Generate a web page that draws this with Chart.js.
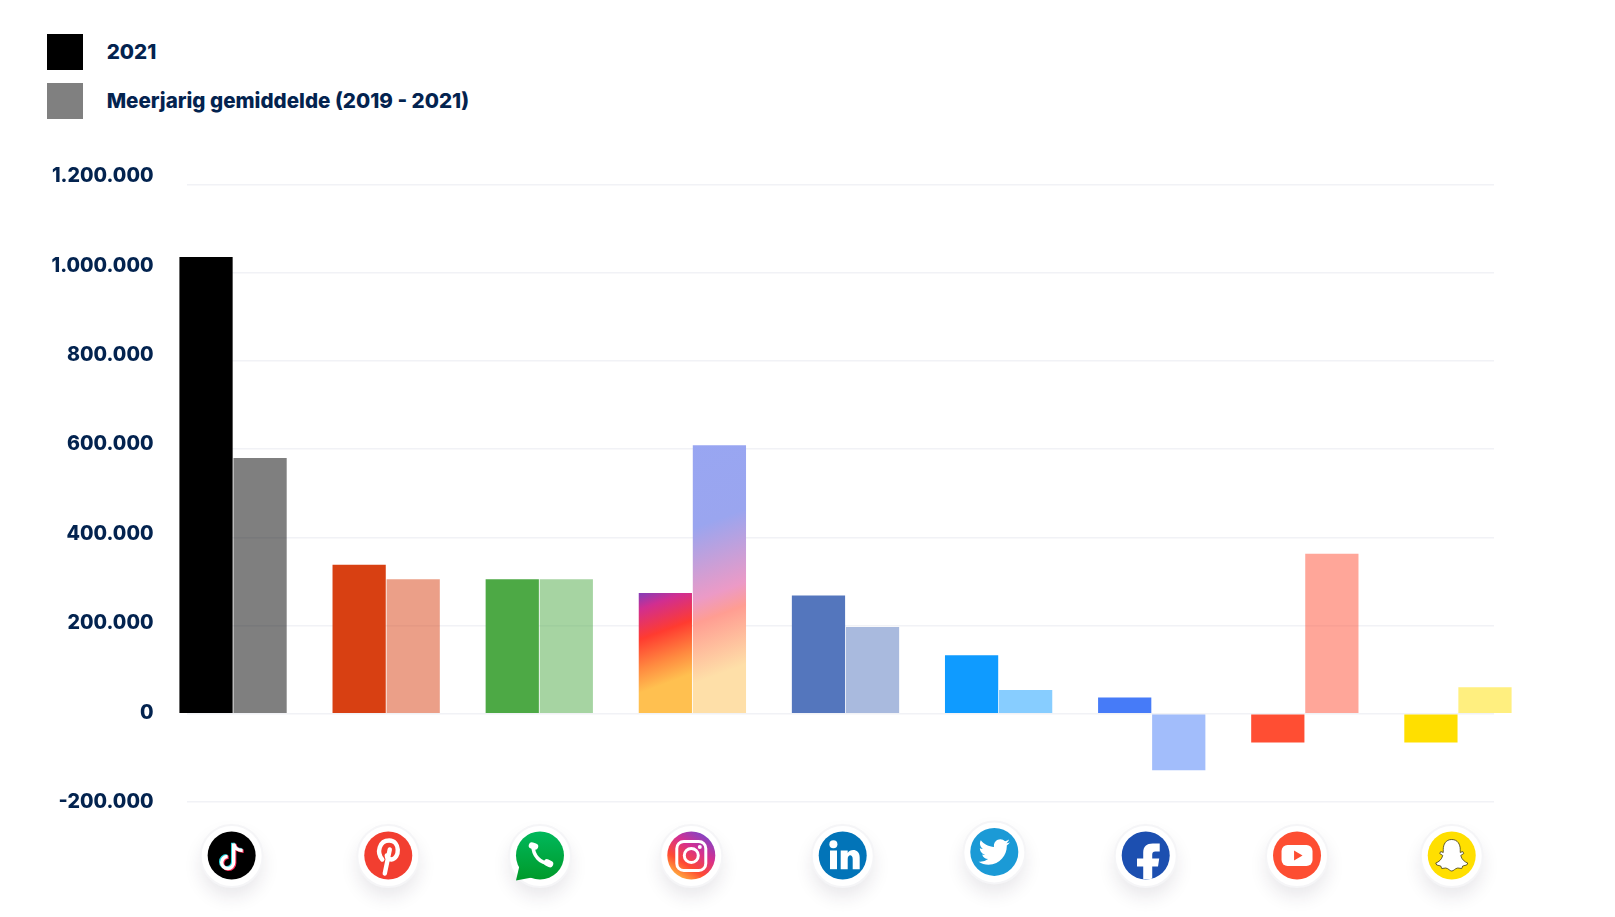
<!DOCTYPE html>
<html lang="nl">
<head>
<meta charset="utf-8">
<title>Chart</title>
<script src="https://cdn.jsdelivr.net/npm/chart.js@4"></script>
<style>
html,body{margin:0;padding:0;background:#fff;}
#wrap{position:relative;width:1615px;height:917px;overflow:hidden;}
canvas{position:absolute;left:0;top:0;}
.lg{position:absolute;left:46.7px;height:36px;display:flex;align-items:center;font:800 20.6px Inter,sans-serif;color:#03234f;white-space:nowrap;}
.lg i{display:block;width:36px;height:36px;margin-right:24px;}
.lg span{position:relative;top:-0.5px;}
</style>
</head>
<body>
<div id="wrap">
<div class="lg" id="lg0" style="top:34px"></div>
<div class="lg" id="lg1" style="top:83px"></div>
<canvas id="c" width="1615" height="917"></canvas>
</div>
<script>
const categories = ['TikTok','Pinterest','WhatsApp','Instagram','LinkedIn','Twitter','Facebook','YouTube','Snapchat'];
const seriesNames = ['2021','Meerjarig gemiddelde (2019 - 2021)'];
const values2021 = [1036000,338000,305000,274000,268000,133000,37000,-65000,-65000];
const valuesAvg  = [580000,305000,305000,609000,197000,54000,-128000,363000,60000];
const colors2021 = ['#000000','#d84012','#4da945',null,'#5476bd','#0f9bff','#467bf8','#ff4e33','#ffdf00'];
const colorsAvg  = ['rgba(0,0,0,.5)','rgba(216,64,18,.5)','rgba(77,169,69,.5)',null,'rgba(84,118,189,.5)','rgba(15,155,255,.5)','rgba(70,123,248,.5)','rgba(255,78,51,.5)','rgba(255,223,0,.5)'];
const legendColors = ['#000000','#808080'];
const instaStops2021 = [[0,'#8a3cb5'],[0.11,'#d12e90'],[0.33,'#ff3b30'],[0.55,'#ff8a40'],[0.72,'#ffc050'],[1,'#ffc050']];
const instaStopsAvg  = [[0,'#98a6f2'],[0.3,'#9aa5ef'],[0.54,'#ec9ac6'],[0.615,'#ff9d92'],[0.81,'#fedfa8'],[1,'#fedfa8']];
const tickValues = [-200000,0,200000,400000,600000,800000,1000000,1200000];
const textColor = '#03234f';
const gridColor = '#f1f2f6';
const iconNudgeX = [-1.4,2.1,0.7,-1.1,-2.8,-4.3,-6,-7.8,-6.2];
const iconNudgeY = [0,0,0,0,0,-3.6,0,0,0];

seriesNames.forEach((n,i)=>{
  const el=document.getElementById('lg'+i);
  const sw=document.createElement('i'); sw.style.background=legendColors[i];
  const tx=document.createElement('span'); tx.textContent=n;
  el.appendChild(sw); el.appendChild(tx);
});

function fmt(v){ return String(v).replace(/\B(?=(\d{3})+(?!\d))/g,'.'); }

function barFill(colors, stops){
  return function(context){
    const i=context.dataIndex, chart=context.chart;
    if(colors[i]) return colors[i];
    if(!chart.chartArea) return stops[0][1];
    const y=chart.scales.y, x=chart.scales.x;
    const top=y.getPixelForValue(context.dataset.data[i]), base=y.getPixelForValue(0);
    const xc=x.getPixelForValue(i)+(context.datasetIndex===0?-27:27);
    const dx=0.37*(base-top)/2;
    const g=chart.ctx.createLinearGradient(xc-dx,top,xc+dx,base);
    stops.forEach(s=>g.addColorStop(s[0],s[1]));
    return g;
  };
}

/* icon glyphs, in a box with radius 24 around the icon's centre */
const twitterBird = new Path2D('M22.46 6c-.77.35-1.6.58-2.46.69.88-.53 1.56-1.37 1.88-2.38-.83.5-1.75.85-2.72 1.05C18.37 4.5 17.26 4 16 4c-2.35 0-4.27 1.92-4.27 4.29 0 .34.04.67.11.98C8.28 9.09 5.11 7.38 3 4.79c-.37.63-.58 1.37-.58 2.15 0 1.49.75 2.81 1.91 3.56-.71 0-1.37-.2-1.95-.5v.03c0 2.08 1.48 3.82 3.44 4.21a4.22 4.22 0 0 1-1.93.07 4.28 4.28 0 0 0 4 2.98 8.521 8.521 0 0 1-5.33 1.84c-.34 0-.68-.02-1.02-.06C3.44 20.29 5.7 21 8.12 21 16 21 20.33 14.46 20.33 8.79c0-.19 0-.37-.01-.56.84-.6 1.56-1.36 2.14-2.23z');
const tiktokNote = new Path2D('M2 -12 L2 7 A6 6 0 1 1 -4 1 M2 -12 C3 -7 7 -5 11 -5');
const pinLoop = new Path2D('M-6 4 C-12 -3 -9 -15 1 -15 C12 -15 12 3 3 4 C0 4 -1.5 2 -1.5 0');
const pinStem = new Path2D('M1.5 -6 L-3.5 18');
const waPhone = new Path2D('M-7 -10 C-7 0 0 8 10 8');
const waEars = new Path2D('M-8 -10 L-5 -9 M7 7 L10 8.5');
const fbF = new Path2D('M-2.5 24 L-2.5 11 L-8.7 11 L-8.7 3 L-2.5 3 L-2.5 -3 C-2.5 -9 1 -12 7 -12 L14 -12 L14 -4 L9.5 -4 C7.5 -4 6.5 -3 6.5 -1 L6.5 3 L13.5 3 L12.3 11 L6.5 11 L6.5 24 Z');
const snapGhost = new Path2D('M0 -16 C6 -16 8.5 -11 8.5 -6 L8.5 -3 L11 -4 L12 -2 L9 0 C10 4 13 6.5 16 7.5 L15 9.5 L11 10.5 L10 13 L6 12.5 C3 13 2 15.5 0 15.5 C-2 15.5 -3 13 -6 12.5 L-10 13 L-11 10.5 L-15 9.5 L-16 7.5 C-13 6.5 -10 4 -9 0 L-12 -2 L-11 -4 L-8.5 -3 L-8.5 -6 C-8.5 -11 -6 -16 0 -16 Z');

function disc(ctx,fill){ ctx.beginPath(); ctx.arc(0,0,24,0,Math.PI*2); ctx.fillStyle=fill; ctx.fill(); }
function rr(ctx,x,y,w,h,r){ ctx.beginPath(); ctx.roundRect(x,y,w,h,r); }

const iconPainters = {
  TikTok(ctx){
    disc(ctx,'#000');
    ctx.lineCap='butt'; ctx.lineWidth=3.4; ctx.fillStyle='none';
    [['#25d4e0',-1,-0.7],['#ff2a55',1,0.7],['#fff',0,0]].forEach(([c,dx,dy])=>{
      ctx.save(); ctx.translate(dx,dy); ctx.strokeStyle=c; ctx.stroke(tiktokNote); ctx.restore();
    });
  },
  Pinterest(ctx){
    disc(ctx,'#f23e30');
    ctx.strokeStyle='#fff'; ctx.lineCap='round'; ctx.lineWidth=4.4;
    ctx.stroke(pinLoop); ctx.stroke(pinStem);
  },
  WhatsApp(ctx){
    const g=ctx.createLinearGradient(0,-24,0,24); g.addColorStop(0,'#00b85c'); g.addColorStop(1,'#009a2a');
    disc(ctx,g);
    ctx.beginPath(); ctx.moveTo(-24,25); ctx.lineTo(-20,8); ctx.lineTo(-8,22); ctx.closePath(); ctx.fillStyle=g; ctx.fill();
    ctx.strokeStyle='#fff'; ctx.lineCap='round'; ctx.lineWidth=3.6; ctx.stroke(waPhone);
    ctx.lineWidth=6.5; ctx.stroke(waEars);
  },
  Instagram(ctx){
    const g=ctx.createLinearGradient(-14,22,14,-22);
    g.addColorStop(0,'#ffb23e'); g.addColorStop(0.3,'#ff4a32'); g.addColorStop(0.65,'#d52f90'); g.addColorStop(1,'#7e45c8');
    disc(ctx,g);
    ctx.strokeStyle='#fff'; ctx.lineWidth=3;
    rr(ctx,-14.5,-14,29,29,7); ctx.stroke();
    ctx.beginPath(); ctx.arc(0,0,7,0,Math.PI*2); ctx.stroke();
    ctx.beginPath(); ctx.arc(8.5,-8.5,2,0,Math.PI*2); ctx.fillStyle='#fff'; ctx.fill();
  },
  LinkedIn(ctx){
    disc(ctx,'#0274b8');
    ctx.fillStyle='#fff';
    ctx.beginPath(); ctx.arc(-9.3,-11.3,4,0,Math.PI*2); ctx.fill();
    ctx.fillRect(-12.7,-5,7,18.7);
    ctx.beginPath(); ctx.moveTo(-2,-5); ctx.lineTo(5,-5); ctx.lineTo(5,-2.5);
    ctx.bezierCurveTo(7,-6.5,17,-7.5,17,2); ctx.lineTo(17,13.7); ctx.lineTo(10,13.7); ctx.lineTo(10,3.5);
    ctx.bezierCurveTo(10,-1.5,5,-1.5,5,3.5); ctx.lineTo(5,13.7); ctx.lineTo(-2,13.7); ctx.closePath(); ctx.fill();
  },
  Twitter(ctx){
    disc(ctx,'#1b9ad6');
    ctx.save(); ctx.scale(1.5,1.5); ctx.translate(-12,-12.5); ctx.fillStyle='#fff'; ctx.fill(twitterBird); ctx.restore();
  },
  Facebook(ctx){
    disc(ctx,'#1c4fb0');
    ctx.save(); ctx.beginPath(); ctx.arc(0,0,24,0,Math.PI*2); ctx.clip();
    ctx.fillStyle='#fff'; ctx.fill(fbF); ctx.restore();
  },
  YouTube(ctx){
    disc(ctx,'#fd4e32');
    ctx.fillStyle='#fff'; rr(ctx,-15.5,-10.5,31,21,6); ctx.fill();
    ctx.fillStyle='#fd4e32'; ctx.beginPath(); ctx.moveTo(-3,-5); ctx.lineTo(5.5,0); ctx.lineTo(-3,5); ctx.closePath(); ctx.fill();
  },
  Snapchat(ctx){
    disc(ctx,'#ffdf00');
    ctx.fillStyle='#fff'; ctx.fill(snapGhost);
    ctx.strokeStyle='#3d3a1a'; ctx.lineWidth=0.8; ctx.stroke(snapGhost);
  }
};

const iconPlugin = {
  id:'axisIcons',
  afterDraw(chart){
    const ctx=chart.ctx, x=chart.scales.x;
    categories.forEach((name,i)=>{
      const cx=x.getPixelForValue(i)+iconNudgeX[i], cy=855.5+iconNudgeY[i];
      ctx.save();
      ctx.translate(cx,cy);
      ctx.save();
      ctx.shadowColor='rgba(40,30,60,.10)'; ctx.shadowBlur=18; ctx.shadowOffsetY=10;
      ctx.beginPath(); ctx.arc(0,0.5,31,0,Math.PI*2); ctx.fillStyle='#fff'; ctx.fill();
      ctx.restore();
      ctx.beginPath(); ctx.arc(0,0.5,31,0,Math.PI*2); ctx.strokeStyle='#f5f5f7'; ctx.lineWidth=2; ctx.stroke();
      iconPainters[name](ctx);
      ctx.restore();
    });
  }
};

/* the horizontal grid stops short of the outer bars on both sides */
const gridClip = {
  id:'gridClip',
  beforeDraw(chart){
    const a=chart.chartArea, ctx=chart.ctx;
    ctx.save(); ctx.beginPath(); ctx.rect(187,a.top-2,1307,a.bottom-a.top+4); ctx.clip();
  },
  beforeDatasetsDraw(chart){ chart.ctx.restore(); }
};

new Chart(document.getElementById('c'),{
  type:'bar',
  data:{
    labels:categories,
    datasets:[
      {label:seriesNames[0],data:values2021,backgroundColor:barFill(colors2021,instaStops2021),borderWidth:0},
      {label:seriesNames[1],data:valuesAvg,backgroundColor:barFill(colorsAvg,instaStopsAvg),borderWidth:0}
    ]
  },
  plugins:[gridClip,iconPlugin],
  options:{
    responsive:false,
    animation:false,
    devicePixelRatio:1,
    layout:{padding:{left:0,right:80.5,top:140.5,bottom:115}},
    datasets:{bar:{categoryPercentage:0.706,barPercentage:0.985}},
    plugins:{legend:{display:false},tooltip:{enabled:false},title:{display:false}},
    scales:{
      x:{display:false,offset:true},
      y:{
        position:'left',min:-200000,max:1300000,
        afterBuildTicks(s){ s.ticks=tickValues.map(v=>({value:v})); },
        afterFit(s){ s.width=0; },
        ticks:{display:false},
        border:{display:false},
        grid:{color:gridColor,lineWidth:1.6,drawTicks:false}
      },
      y2:{
        position:'left',min:-199776,max:1280089,
        afterBuildTicks(s){ s.ticks=tickValues.map(v=>({value:v})); },
        afterFit(s){ s.width=156.5; },
        grid:{display:false,drawTicks:false},
        border:{display:false},
        ticks:{z:1,padding:3,autoSkip:false,color:textColor,font:{family:'Inter',weight:'800',size:19.6},callback:v=>fmt(v)}
      }
    }
  }
});
</script>
</body>
</html>
